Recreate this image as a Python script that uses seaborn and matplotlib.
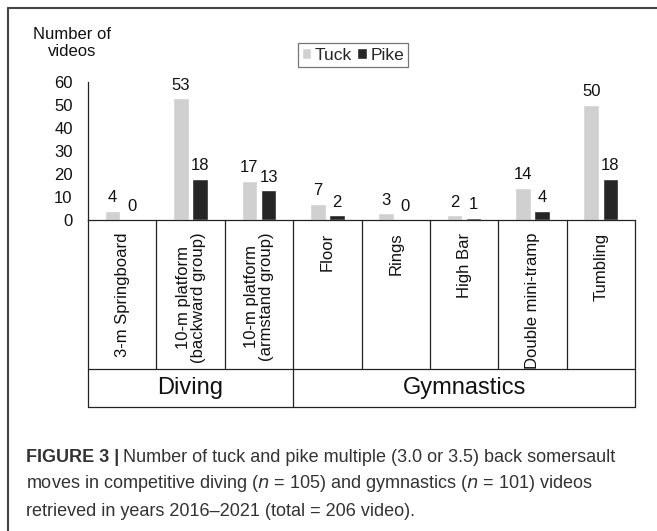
import numpy as np
import pandas as pd
import matplotlib
matplotlib.use("Agg")
import matplotlib.pyplot as plt
import matplotlib.transforms as mtransforms
from matplotlib.lines import Line2D
import seaborn as sns

# Data
categories = ["3-m Springboard", "10-m platform\n(backward group)", "10-m platform\n(armstand group)",
              "Floor", "Rings", "High Bar", "Double mini-tramp", "Tumbling"]
tuck = [4, 53, 17, 7, 3, 2, 14, 50]
pike = [0, 18, 13, 2, 0, 1, 4, 18]
groups = ["Diving", "Gymnastics"]
group_sizes = [3, 5]
yticks = [0, 10, 20, 30, 40, 50, 60]

df = pd.DataFrame({
    "category": categories * 2,
    "count": tuck + pike,
    "style": ["Tuck"] * len(tuck) + ["Pike"] * len(pike),
})

sns.set_theme(style="white")
plt.rcParams["font.family"] = ["Liberation Sans", "DejaVu Sans"]

W, H = 657, 531
fig = plt.figure(figsize=(W / 100, H / 100), dpi=100)

def fy(py):
    # pixel row from top -> figure fraction
    return 1 - py / H

ax_left, ax_right, ax_top, ax_bot = 88, 635, 82, 220
ax = fig.add_axes([ax_left / W, fy(ax_bot), (ax_right - ax_left) / W, (ax_bot - ax_top) / H])

sns.barplot(data=df, x="category", y="count", hue="style", order=categories,
            palette={"Tuck": "#d0d0d0", "Pike": "#262626"}, width=0.56, gap=0.18,
            saturation=1, ax=ax)

for cont in ax.containers:
    ax.bar_label(cont, padding=4, fontsize=12, color="#111111")

ax.set_xlim(-0.5, len(categories) - 0.5)
ax.set_ylim(0, 60)
ax.set_yticks(yticks)
ax.tick_params(axis="y", length=0, pad=11, labelsize=12, labelcolor="#111111")
ax.tick_params(axis="x", length=0, pad=9, labelsize=12, labelcolor="#111111")
ax.set_xticks(range(len(categories)))
ax.set_xticklabels(categories, rotation=90, va="top", ha="center", linespacing=1.0)
ax.set_xlabel("")
ax.set_ylabel("")
for s in ["top", "right"]:
    ax.spines[s].set_visible(False)
for s in ["left", "bottom"]:
    ax.spines[s].set_color("#222222")
    ax.spines[s].set_linewidth(0.9)

# legend
handles, labels = ax.get_legend_handles_labels()
leg = ax.legend(handles, labels, loc="center", bbox_to_anchor=(353 / W, fy(55)),
                bbox_transform=fig.transFigure, ncol=2, frameon=True, fancybox=False,
                handlelength=0.55, handleheight=0.55, handletextpad=0.2, columnspacing=0.3,
                borderpad=0.25, fontsize=12.5, borderaxespad=0)
leg.get_frame().set_edgecolor("#555555")
leg.get_frame().set_linewidth(0.9)

fig.text(72 / W, fy(43), "Number of\nvideos", ha="center", va="center", fontsize=12,
         color="#111111", linespacing=1.2)

# table under the axis
trans = mtransforms.blended_transform_factory(ax.transData, fig.transFigure)
row1, row2 = fy(369), fy(407)
lc = "#222222"
lw = 0.9
x0, x1 = -0.5, len(categories) - 0.5
for yy in [row1, row2]:
    fig.add_artist(Line2D([x0, x1], [yy, yy], transform=trans, color=lc, lw=lw))
for i in range(len(categories) + 1):
    fig.add_artist(Line2D([i - 0.5, i - 0.5], [fy(ax_bot), row1], transform=trans, color=lc, lw=lw))
start = -0.5
edges = [start]
for g, n in zip(groups, group_sizes):
    fig.text(start + n / 2, (row1 + row2) / 2, g, transform=trans, ha="center", va="center",
             fontsize=17, color="#111111")
    start += n
    edges.append(start)
for e in edges:
    fig.add_artist(Line2D([e, e], [row1, row2], transform=trans, color=lc, lw=lw))

# outer frame (top and left)
fig.add_artist(Line2D([8 / W, 1], [fy(8), fy(8)], transform=fig.transFigure, color="#444444", lw=1.5))
fig.add_artist(Line2D([8 / W, 8 / W], [fy(8), 0], transform=fig.transFigure, color="#444444", lw=1.5))

# caption
cap_col = "#333333"
cap_fs = 13
t = fig.text(26 / W, fy(457), "FIGURE 3 |", fontsize=cap_fs, fontweight="bold", color=cap_col,
             va="center", ha="left")
fig.canvas.draw()
bb = t.get_window_extent()
fig.text(bb.x1 / W + 4 / W, fy(457),
         "Number of tuck and pike multiple (3.0 or 3.5) back somersault",
         fontsize=cap_fs, color=cap_col, va="center", ha="left")
fig.text(26 / W, fy(484),
         "moves in competitive diving ($n$ = 105) and gymnastics ($n$ = 101) videos",
         fontsize=cap_fs, color=cap_col, va="center", ha="left")
fig.text(26 / W, fy(511),
         "retrieved in years 2016\u20132021 (total = 206 video).",
         fontsize=cap_fs, color=cap_col, va="center", ha="left")

fig.savefig("out.png", dpi=100)
